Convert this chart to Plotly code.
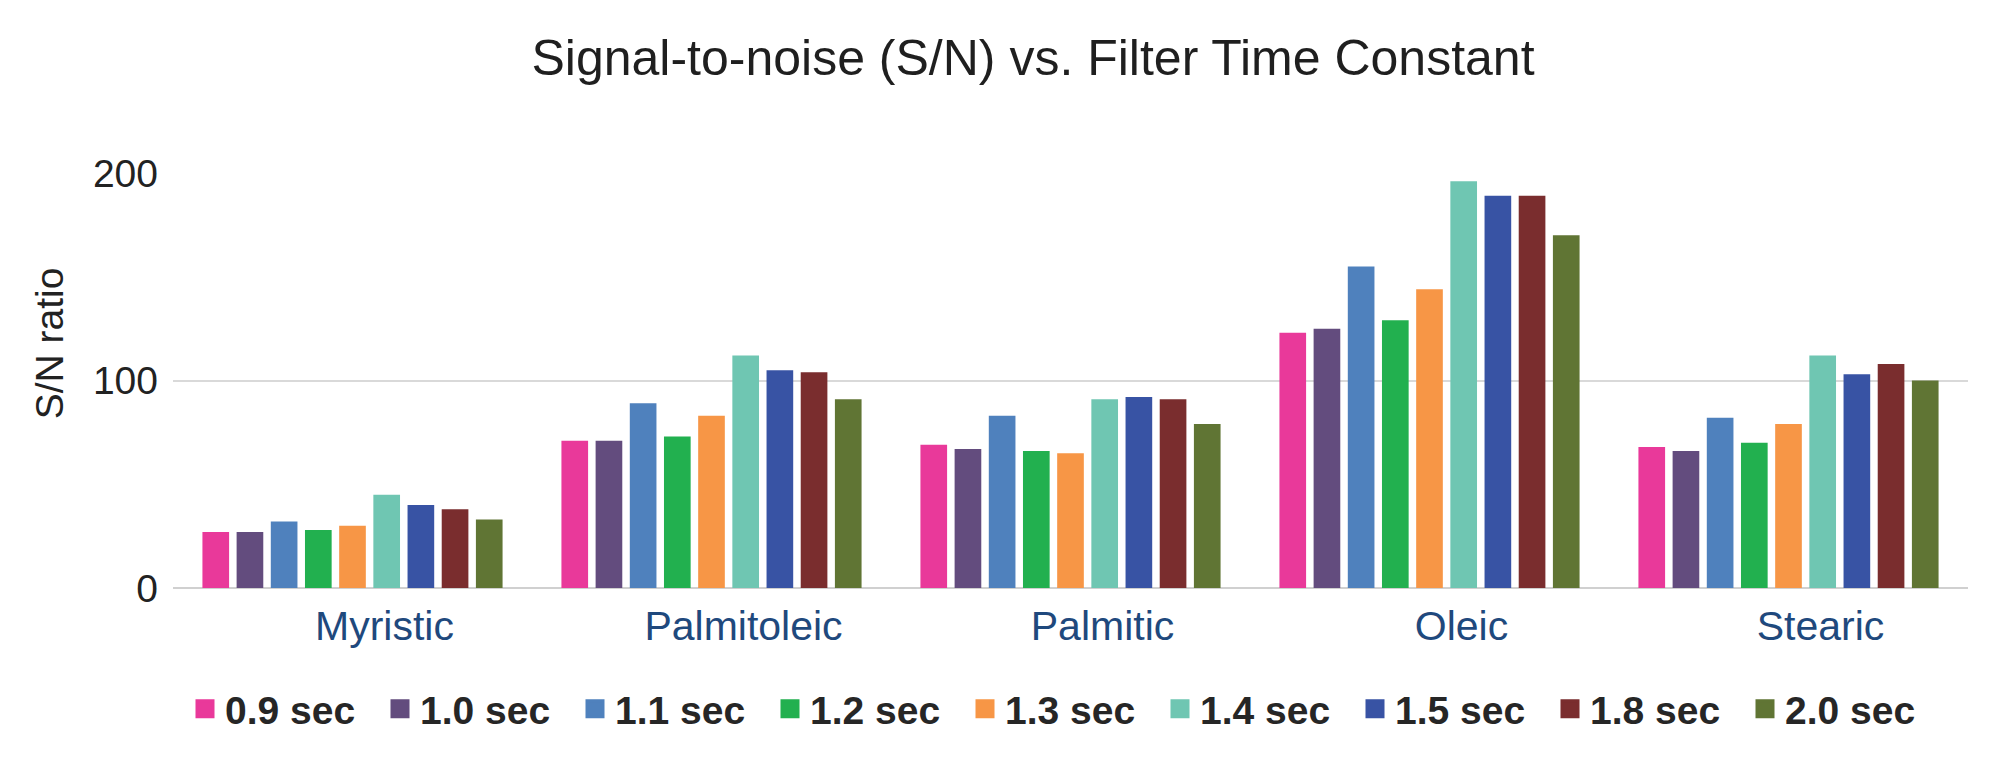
import plotly.graph_objects as go

# ---- data ----
categories = ["Myristic", "Palmitoleic", "Palmitic", "Oleic", "Stearic"]
series_names = ["0.9 sec", "1.0 sec", "1.1 sec", "1.2 sec", "1.3 sec",
                "1.4 sec", "1.5 sec", "1.8 sec", "2.0 sec"]
s_0_9 = [27, 71, 69, 123, 68]
s_1_0 = [27, 71, 67, 125, 66]
s_1_1 = [32, 89, 83, 155, 82]
s_1_2 = [28, 73, 66, 129, 70]
s_1_3 = [30, 83, 65, 144, 79]
s_1_4 = [45, 112, 91, 196, 112]
s_1_5 = [40, 105, 92, 189, 103]
s_1_8 = [38, 104, 91, 189, 108]
s_2_0 = [33, 91, 79, 170, 100]
y_tick_vals = [0, 100, 200]

series_values = [s_0_9, s_1_0, s_1_1, s_1_2, s_1_3, s_1_4, s_1_5, s_1_8, s_2_0]

# ---- style ----
colors = ["#E9399A", "#634C7E", "#4F81BD", "#22B04F", "#F79646",
          "#6FC6B2", "#3853A4", "#7A2D2E", "#607534"]
FONT = "Liberation Sans, Arial, Helvetica, sans-serif"

fig = go.Figure()
for name, vals, col in zip(series_names, series_values, colors):
    fig.add_trace(go.Bar(
        x=categories, y=vals, name=name, marker_color=col,
        marker_line_width=0, showlegend=False, legendgroup=name,
    ))
# legend entries (larger square swatches)
for name, col in zip(series_names, colors):
    fig.add_trace(go.Scatter(
        x=[None], y=[None], mode="markers", name=name, legendgroup=name,
        marker=dict(symbol="square", size=16, color=col,
                    line=dict(width=3, color=col)),
        showlegend=True,
    ))

fig.update_layout(
    width=2000, height=774,
    paper_bgcolor="white", plot_bgcolor="white",
    margin=dict(l=173, r=32, t=173, b=185.5, autoexpand=False),
    barmode="group", bargap=0.143, bargroupgap=0.22,
    font=dict(family=FONT, color="#222222"),
    title=dict(
        text="Signal-to-noise (S/N) vs. Filter Time Constant",
        font=dict(family=FONT, size=50, color="#1f1f1f"),
        x=1033 / 2000, xanchor="center", xref="container",
        y=1 - 57 / 774, yanchor="middle", yref="container",
    ),
    xaxis=dict(
        type="category", showgrid=False, showline=False, ticks="",
        tickfont=dict(family=FONT, size=41, color="#1F497D"),
        ticklabelshift=32, ticklabelstandoff=10,
    ),
    yaxis=dict(
        range=[0, 200], tickvals=y_tick_vals, showgrid=True,
        gridcolor="#D9D9D9", gridwidth=1.5,
        zeroline=True, zerolinecolor="#D0D0D0", zerolinewidth=2,
        showline=False, ticks="",
        tickfont=dict(family=FONT, size=39, color="#222222"),
        ticklabelstandoff=14,
    ),
    legend=dict(
        orientation="h", xref="container", yref="container",
        x=0.0925, xanchor="left", y=1 - 709 / 774, yanchor="middle",
        font=dict(family=FONT, size=39, color="#262626", weight="bold"),
        entrywidth=150, entrywidthmode="pixels",
        bgcolor="rgba(0,0,0,0)", borderwidth=0,
    ),
    annotations=[dict(
        text="S/N ratio", textangle=-90, showarrow=False,
        xref="paper", yref="paper",
        x=(49.5 - 173) / 1795, y=(588.5 - 344) / 415.5,
        xanchor="center", yanchor="middle",
        font=dict(family=FONT, size=39, color="#222222"),
    )],
)

fig.write_html("out.html")
